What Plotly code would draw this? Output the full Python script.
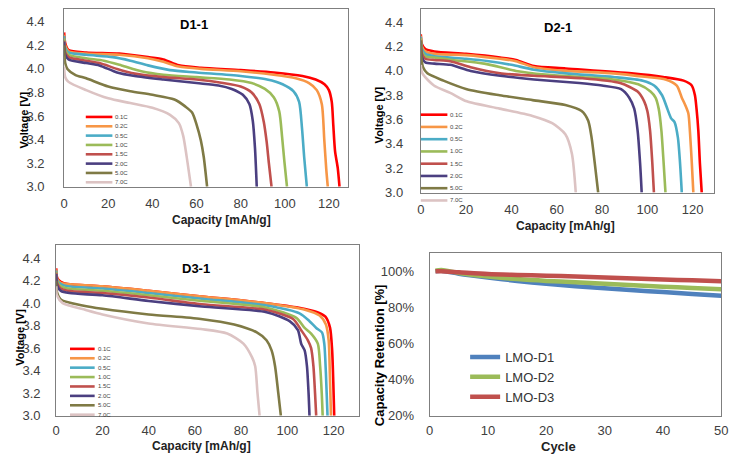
import plotly.graph_objects as go

W, H = 749, 462

rates = ["0.1C", "0.2C", "0.5C", "1.0C", "1.5C", "2.0C", "5.0C", "7.0C"]
rate_colors = ["#FF0000", "#F79646", "#4BACC6", "#9BBB59", "#C0504D", "#4B3F80", "#7F7A45", "#DCC3C3"]

# ---------------- D1-1 ----------------
d1_cap = [
    [0, 0.5, 2, 10, 25, 38, 45, 52, 62, 80, 95, 108, 114, 118, 120, 121.3, 122, 122.8, 124, 124.8],
    [0, 0.5, 2, 10, 25, 38, 45, 52, 62, 80, 95, 105, 111, 114.5, 116.8, 117.9, 118.8, 119.5],
    [0, 0.5, 2, 10, 22, 30, 38, 48, 60, 80, 92, 99, 104, 106.5, 107.8, 108.8, 110],
    [0, 0.5, 2, 10, 18, 26, 35, 45, 60, 75, 85, 91, 95, 97.5, 98.8, 99.8, 101],
    [0, 0.5, 2, 10, 16, 24, 32, 45, 60, 72, 80, 85, 88.5, 90.5, 91.8, 92.8, 94],
    [0, 0.5, 2, 10, 16, 24, 32, 45, 60, 70, 76, 81, 84, 85.5, 86.5, 87.3],
    [0, 0.5, 1.5, 5, 10, 20, 30, 40, 50, 55, 58, 60, 62, 63.3, 64.8],
    [0, 0.5, 2, 10, 20, 30, 40, 48, 52, 54, 55.5, 57.5],
]
d1_volt = [
    [4.31, 4.22, 4.16, 4.14, 4.13, 4.10, 4.08, 4.03, 4.01, 3.99, 3.97, 3.94, 3.91, 3.87, 3.82, 3.72, 3.52, 3.30, 3.16, 3.00],
    [4.29, 4.20, 4.15, 4.13, 4.12, 4.09, 4.06, 4.02, 4.00, 3.98, 3.95, 3.92, 3.88, 3.82, 3.70, 3.40, 3.15, 3.00],
    [4.28, 4.18, 4.14, 4.12, 4.10, 4.07, 4.03, 3.99, 3.97, 3.94, 3.91, 3.87, 3.81, 3.72, 3.50, 3.25, 3.00],
    [4.26, 4.16, 4.12, 4.09, 4.07, 4.03, 3.98, 3.95, 3.93, 3.91, 3.88, 3.83, 3.76, 3.64, 3.42, 3.22, 3.00],
    [4.24, 4.14, 4.10, 4.07, 4.05, 4.00, 3.96, 3.93, 3.91, 3.88, 3.85, 3.80, 3.70, 3.55, 3.38, 3.20, 3.00],
    [4.23, 4.12, 4.08, 4.05, 4.03, 3.97, 3.94, 3.91, 3.88, 3.86, 3.83, 3.78, 3.70, 3.56, 3.33, 3.00],
    [4.20, 4.05, 4.00, 3.95, 3.92, 3.85, 3.81, 3.78, 3.74, 3.68, 3.63, 3.53, 3.39, 3.25, 3.00],
    [4.02, 3.93, 3.89, 3.82, 3.75, 3.71, 3.67, 3.61, 3.54, 3.43, 3.26, 3.00],
]

# ---------------- D2-1 ----------------
d2_cap = [
    [0, 0.5, 2, 6, 20, 35, 42, 50, 64, 93, 107, 116, 119.6, 121, 121.7, 122.5, 123.2, 124],
    [0, 0.5, 2, 6, 20, 35, 42, 50, 64, 85, 100, 108, 113, 115.2, 116.7, 118.1, 118.8, 119.6, 120.3],
    [0, 0.5, 2, 6, 20, 30, 40, 50, 64, 85, 98, 103, 106.5, 109, 110.5, 112, 113.5, 114.4, 115.2],
    [0, 0.5, 2, 6, 14, 28, 42, 55, 70, 85, 96, 101.4, 103.6, 105, 106.2, 107.2, 108],
    [0, 0.5, 2, 6, 13, 22, 35, 50, 71, 88, 95.7, 98.6, 100, 101.2, 102.2, 102.9],
    [0, 0.5, 2, 6, 13, 22, 35, 50, 70, 80, 88.4, 92, 94.2, 95.7, 96.8, 97.5],
    [0, 0.3, 1, 2.9, 10, 20.3, 34.8, 49.3, 63.8, 71, 73.9, 75.4, 76.8, 78.3],
    [0, 0.3, 1, 5.8, 13, 20.3, 34.8, 49.3, 58, 63.8, 66.7, 68.4],
]
d2_volt = [
    [4.30, 4.22, 4.18, 4.16, 4.14, 4.11, 4.09, 4.04, 4.02, 3.98, 3.95, 3.92, 3.88, 3.80, 3.69, 3.51, 3.24, 3.00],
    [4.29, 4.20, 4.16, 4.14, 4.13, 4.10, 4.08, 4.03, 4.00, 3.98, 3.95, 3.93, 3.88, 3.78, 3.72, 3.65, 3.50, 3.25, 3.00],
    [4.28, 4.18, 4.14, 4.12, 4.10, 4.08, 4.05, 4.01, 3.98, 3.95, 3.92, 3.88, 3.80, 3.68, 3.61, 3.58, 3.45, 3.25, 3.00],
    [4.27, 4.16, 4.12, 4.11, 4.09, 4.06, 4.00, 3.97, 3.95, 3.93, 3.89, 3.83, 3.78, 3.69, 3.51, 3.24, 3.00],
    [4.25, 4.14, 4.10, 4.09, 4.08, 4.03, 3.98, 3.96, 3.94, 3.90, 3.83, 3.75, 3.67, 3.51, 3.24, 3.00],
    [4.24, 4.11, 4.07, 4.06, 4.05, 4.00, 3.96, 3.93, 3.90, 3.88, 3.85, 3.78, 3.69, 3.51, 3.24, 3.00],
    [4.25, 4.10, 4.03, 3.98, 3.92, 3.85, 3.80, 3.76, 3.72, 3.67, 3.59, 3.45, 3.24, 3.00],
    [4.05, 4.00, 3.97, 3.88, 3.82, 3.75, 3.69, 3.63, 3.57, 3.48, 3.32, 3.00],
]

# ---------------- D3-1 ----------------
d3_cap = [
    [0, 0.5, 2, 5, 20, 40, 63, 91, 105, 113, 116.5, 118.5, 119.4, 119.9, 120.3],
    [0, 0.5, 2, 5, 20, 40, 63, 91, 108, 114, 116.7, 117.9, 118.4, 118.9],
    [0, 0.5, 2, 5, 20, 40, 63, 91, 105.3, 109.6, 112.5, 115, 116, 116.7, 117.4],
    [0, 0.5, 2, 5, 20, 40, 63, 91, 103.9, 107.5, 110.3, 113.2, 114.2, 114.9, 115.3],
    [0, 0.5, 2, 5, 20, 40, 63, 91, 102.5, 106, 108.9, 110.3, 111.3, 112, 112.5],
    [0, 0.5, 2, 5.7, 20, 40, 63, 91, 101, 104.6, 106, 107.5, 108.5, 109.2, 109.6],
    [0, 0.3, 2.1, 11.4, 20, 40, 62.6, 77, 86.8, 91, 93.2, 94.7, 96.1, 97.2],
    [0, 0.3, 2.8, 12.8, 20, 40, 62.6, 74, 81, 84.7, 86.1, 87.1, 88],
]
d3_volt = [
    [4.31, 4.22, 4.19, 4.17, 4.15, 4.11, 4.06, 4.00, 3.96, 3.92, 3.88, 3.78, 3.58, 3.30, 3.00],
    [4.30, 4.21, 4.18, 4.17, 4.15, 4.11, 4.06, 4.00, 3.94, 3.89, 3.81, 3.67, 3.38, 3.00],
    [4.29, 4.20, 4.17, 4.15, 4.13, 4.09, 4.04, 3.98, 3.91, 3.84, 3.78, 3.74, 3.64, 3.38, 3.00],
    [4.28, 4.19, 4.15, 4.13, 4.11, 4.07, 4.02, 3.96, 3.87, 3.78, 3.73, 3.64, 3.44, 3.20, 3.00],
    [4.27, 4.17, 4.13, 4.11, 4.09, 4.05, 3.99, 3.94, 3.86, 3.76, 3.67, 3.60, 3.44, 3.20, 3.00],
    [4.26, 4.15, 4.11, 4.09, 4.07, 4.02, 3.97, 3.92, 3.84, 3.76, 3.64, 3.58, 3.44, 3.20, 3.00],
    [4.20, 4.10, 4.03, 3.98, 3.95, 3.90, 3.86, 3.81, 3.74, 3.67, 3.58, 3.44, 3.20, 3.00],
    [4.15, 4.07, 4.00, 3.94, 3.90, 3.82, 3.77, 3.73, 3.64, 3.52, 3.44, 3.20, 3.00],
]

# ---------------- Cycle retention ----------------
cycles = [1, 2, 5, 10, 15, 20, 25, 30, 35, 40, 45, 50]
ret_names = ["LMO-D1", "LMO-D2", "LMO-D3"]
ret_colors = ["#4F81BD", "#9BBB59", "#C0504D"]
ret_d1 = [100.0, 100.2, 98.6, 96.5, 94.6, 93.0, 91.7, 90.5, 89.4, 88.4, 87.4, 86.4]
ret_d2 = [100.2, 100.6, 99.0, 97.0, 95.6, 94.6, 93.9, 93.0, 92.2, 91.4, 90.7, 90.0]
ret_d3 = [100.0, 100.0, 99.4, 98.4, 97.9, 97.5, 97.1, 96.5, 95.9, 95.4, 94.9, 94.4]

volt_ticks = [3.0, 3.2, 3.4, 3.6, 3.8, 4.0, 4.2, 4.4]
cap_ticks = [0, 20, 40, 60, 80, 100, 120]
cyc_ticks = [0, 10, 20, 30, 40, 50]
ret_ticks = [20, 40, 60, 80, 100]
ret_ticktext = ["20%", "40%", "60%", "80%", "100%"]


def px(x):
    return x / W


def py(y):
    return 1 - y / H


FONT = "Liberation Sans"
fig = go.Figure()

panels = [
    ("x", "y", d1_cap, d1_volt),
    ("x2", "y2", d2_cap, d2_volt),
    ("x3", "y3", d3_cap, d3_volt),
]
for xa, ya, caps, volts in panels:
    for name, col, c, v in zip(rates, rate_colors, caps, volts):
        fig.add_trace(go.Scatter(x=c, y=v, mode="lines", name=name, xaxis=xa, yaxis=ya,
                                 line=dict(color=col, width=2.6, shape="spline", smoothing=0.7),
                                 showlegend=False))

for name, col, r in zip(ret_names, ret_colors, [ret_d1, ret_d2, ret_d3]):
    fig.add_trace(go.Scatter(x=cycles, y=r, mode="lines", name=name, xaxis="x4", yaxis="y4",
                             line=dict(color=col, width=4.5, shape="spline", smoothing=0.8),
                             showlegend=True, legend="legend"))

# panel geometry (pixel boxes: left, right, top, bottom)
boxes = [(61, 349, 9, 190), (423, 721, 9, 196), (53, 360, 249, 423), (432, 728, 257, 423)]
xranges = [[0, 128.6], [0, 129.6], [0, 130.9], [0, 50]]
yranges = [[3.0, 4.51], [3.0, 4.51], [3.0, 4.52], [20, 110.3]]
xstand = [5, 5, 3, 3]
ystand = [16, 14, 12, 12]

axis_common = dict(showgrid=False, zeroline=False, showline=True, linecolor="#7F7F7F",
                   linewidth=1, mirror=True, ticks="",
                   tickfont=dict(family=FONT, size=13, color="#404040"))
layout = dict(width=W, height=H, margin=dict(l=0, r=0, t=0, b=0),
              paper_bgcolor="white", plot_bgcolor="white", showlegend=True)
for i, (b, xr, yr) in enumerate(zip(boxes, xranges, yranges)):
    sfx = "" if i == 0 else str(i + 1)
    l, r, t, bt = b
    xa = dict(axis_common, domain=[px(l), px(r)], range=xr, anchor="y" + sfx,
              ticklabelstandoff=xstand[i])
    ya = dict(axis_common, domain=[py(bt), py(t)], range=yr, anchor="x" + sfx,
              ticklabelstandoff=ystand[i])
    if i < 3:
        xa.update(tickvals=cap_ticks)
        ya.update(tickvals=volt_ticks, tickformat=".1f")
    else:
        xa.update(tickvals=cyc_ticks)
        ya.update(tickvals=ret_ticks, ticktext=ret_ticktext)
    layout["xaxis" + sfx] = xa
    layout["yaxis" + sfx] = ya

layout["legend"] = dict(x=px(468), y=py(348), xanchor="left", yanchor="top",
                        bgcolor="rgba(0,0,0,0)", font=dict(family=FONT, size=13, color="#333"),
                        itemwidth=30, tracegroupgap=0)
fig.update_layout(**layout)


def text(x, y, s, size, color="black", angle=0, xanchor="center"):
    return dict(x=px(x), y=py(y), xref="paper", yref="paper", text=s, textangle=angle,
                xanchor=xanchor, yanchor="middle", showarrow=False,
                font=dict(family=FONT, size=size, color=color))


ann = []
for (tx, ty), (vx, vy), (cx, cy), ttl in [
    ((193, 25), (20, 122), (221, 224), "D1-1"),
    ((562, 28), (381, 117), (570, 230), "D2-1"),
    ((195, 273), (16, 343), (200, 454), "D3-1"),
]:
    ann.append(text(tx, ty, "<b>%s</b>" % ttl, 13))
    ann.append(text(vx, vy, "<b>Voltage [V]</b>", 11, angle=-90))
    ann.append(text(cx, cy, "<b>Capacity [mAh/g]</b>", 12, color="#222"))
ann.append(text(381, 361, "<b>Capacity Retention [%]</b>", 13, angle=-90))
ann.append(text(563, 454, "<b>Cycle</b>", 13, color="#222"))

# small rate legends inside panels 1-3 (line x0, x1, first row y, row step)
shapes = []
for x0, x1, y0, dy in [(83, 110, 119, 9.5), (423, 450, 116.7, 12.47), (67, 92, 355, 9.57)]:
    for k, (name, col) in enumerate(zip(rates, rate_colors)):
        yy = y0 + k * dy
        shapes.append(dict(type="line", xref="paper", yref="paper", x0=px(x0), x1=px(x1),
                           y0=py(yy), y1=py(yy), line=dict(color=col, width=2.6)))
        ann.append(text(x1 + 1, yy, name, 6, color="#444", xanchor="left"))

fig.update_layout(annotations=ann, shapes=shapes)
fig.write_html("out.html")
